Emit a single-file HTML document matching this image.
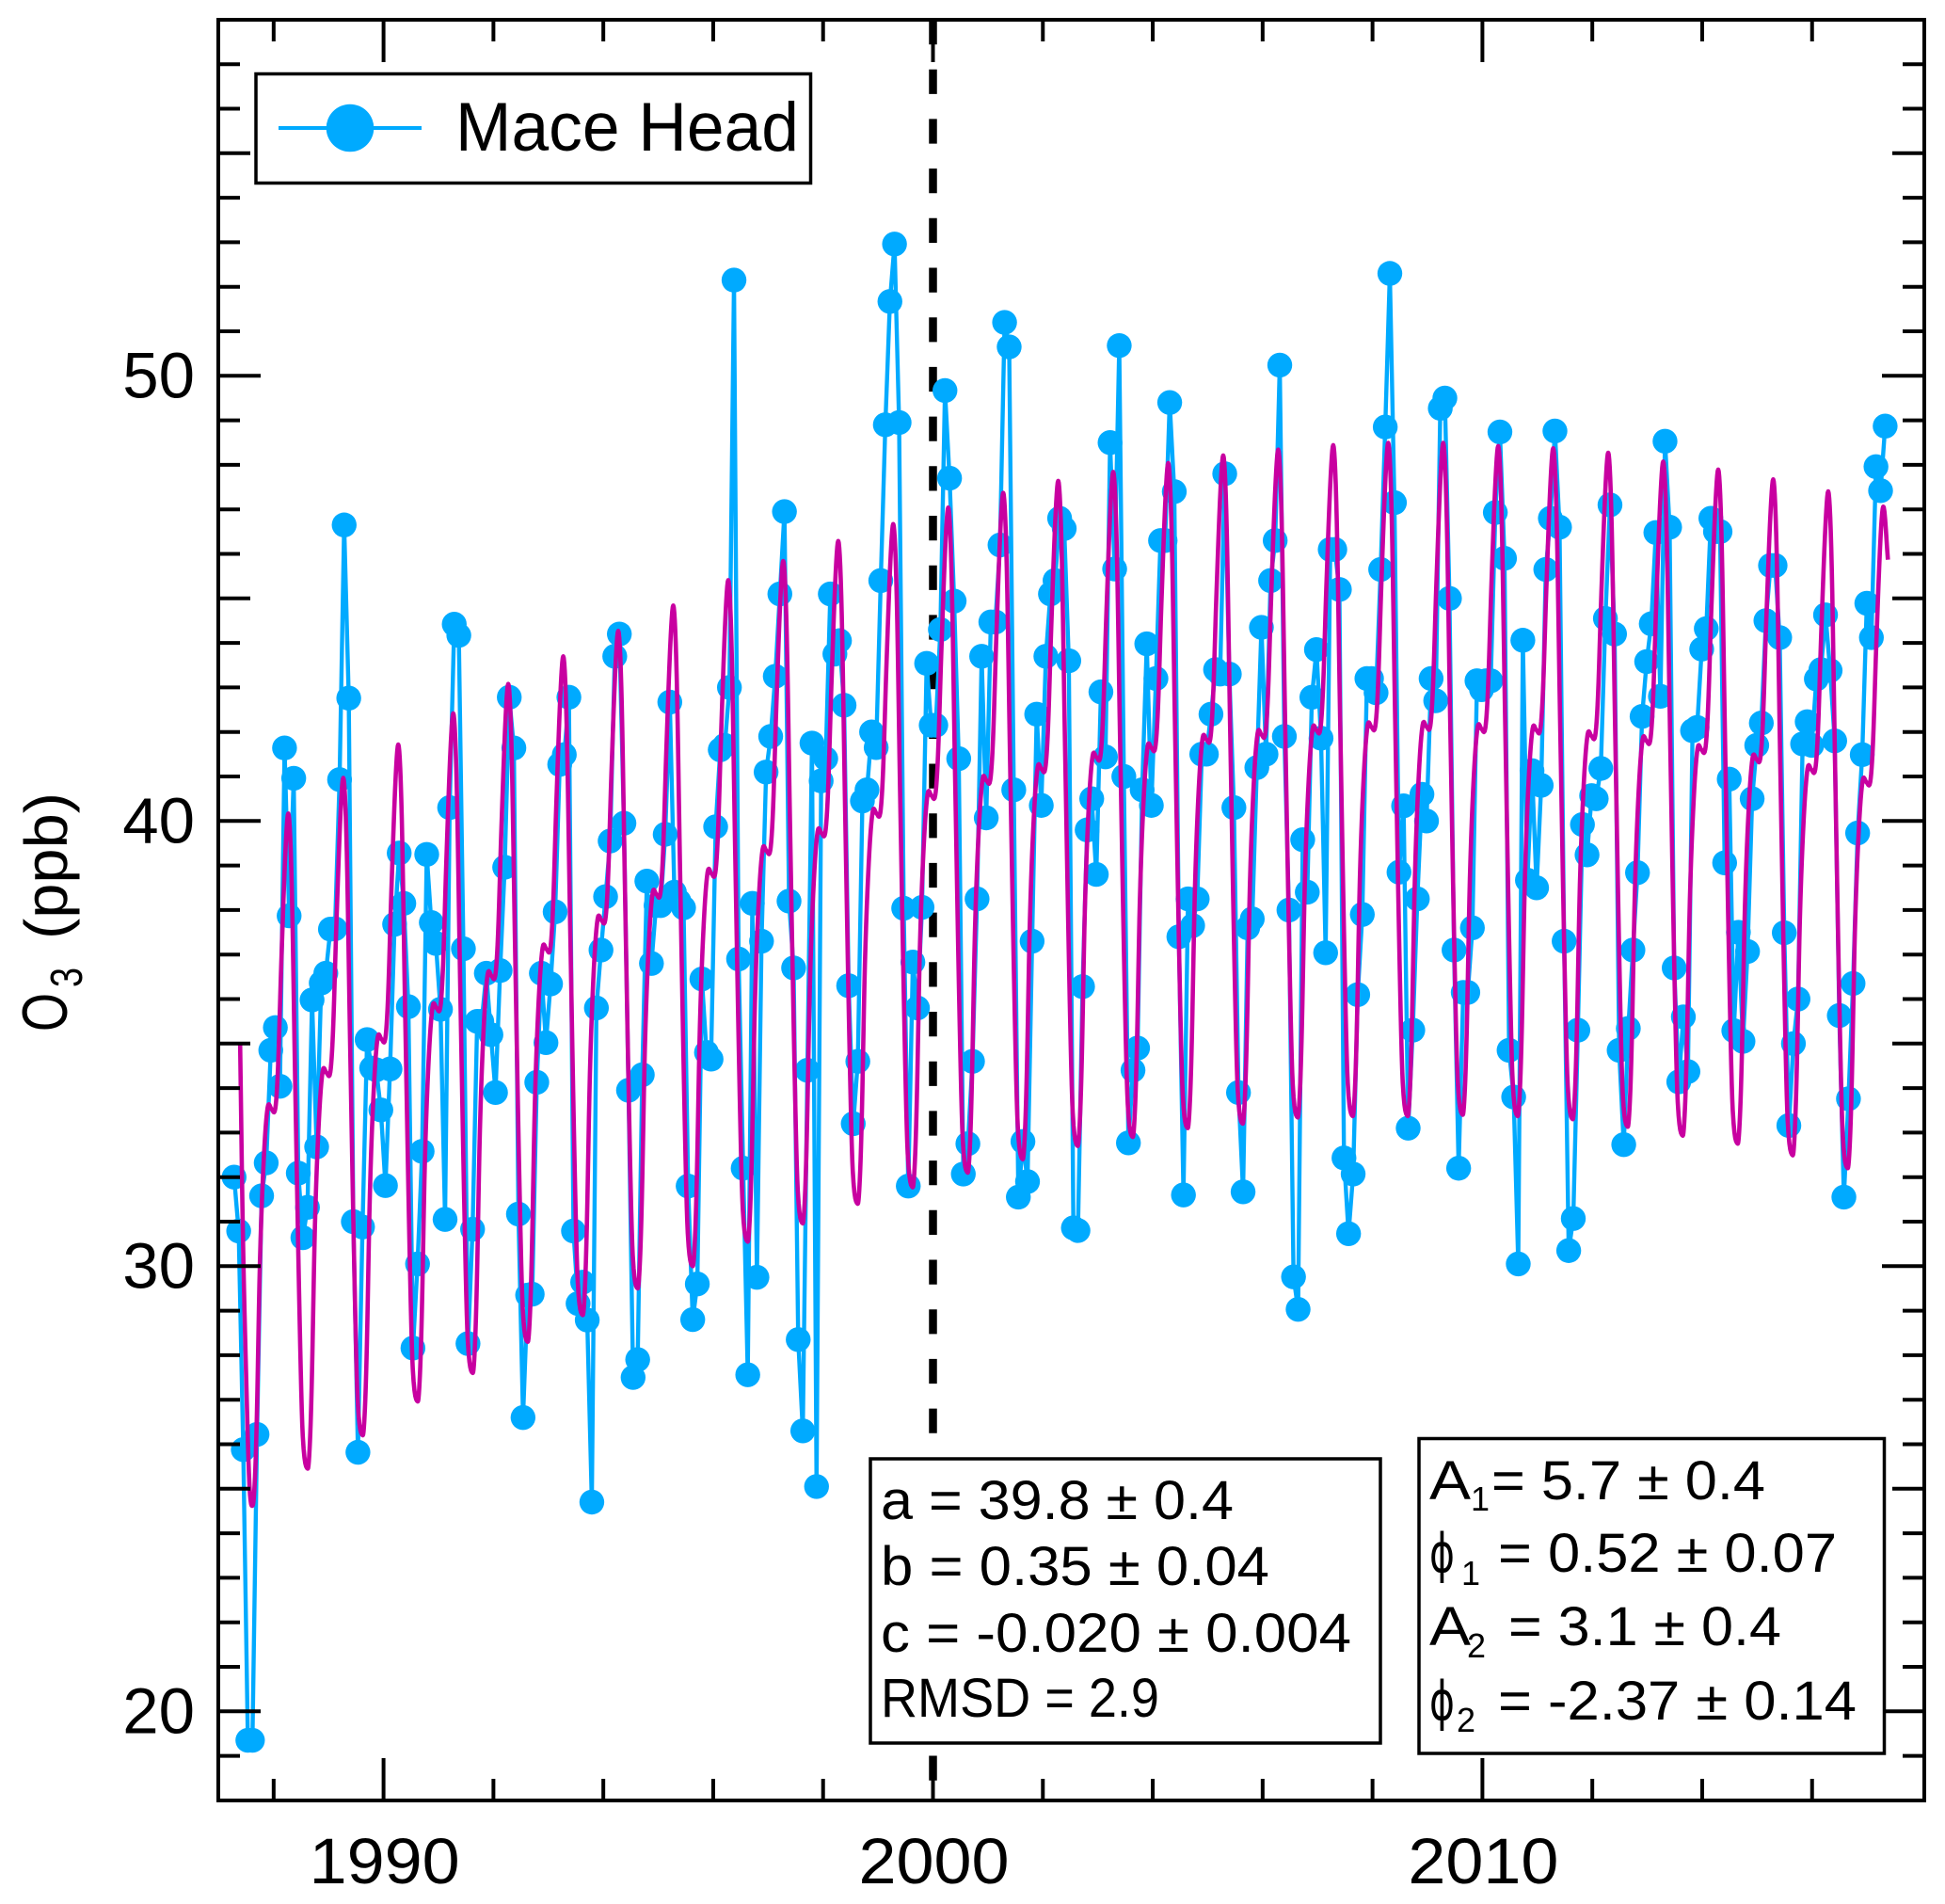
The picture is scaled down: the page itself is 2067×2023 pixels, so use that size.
<!DOCTYPE html>
<html lang="en">
<head>
<meta charset="utf-8">
<title>Mace Head O3</title>
<style>
html,body{margin:0;padding:0;background:#fff;}
svg{display:block;font-family:"Liberation Sans",sans-serif;fill:#000;}
text{fill:#000;}
</style>
</head>
<body>
<svg id="chart" xmlns="http://www.w3.org/2000/svg" width="2067" height="2023" viewBox="0 0 2067 2023">
  <rect x="0" y="0" width="2067" height="2023" style="fill:#fff"/>
  <g id="grid-layer"></g>
  <g id="data-layer"></g>
  <g id="axis-layer"></g>

  <g>
    <text transform="translate(71,1096) rotate(-90)" font-size="68" textLength="41" lengthAdjust="spacingAndGlyphs">O</text>
    <text transform="translate(87,1049) rotate(-90)" font-size="48" textLength="21" lengthAdjust="spacingAndGlyphs">3</text>
    <text transform="translate(71,998) rotate(-90)" font-size="64" textLength="156" lengthAdjust="spacingAndGlyphs">(ppb)</text>
  </g>

  <g>
    <rect x="272" y="78.5" width="589.5" height="116" style="fill:#fff;stroke:#000;stroke-width:3.5"/>
    <line x1="296" y1="136" x2="448" y2="136" style="stroke:#00aaff;stroke-width:4"/>
    <circle cx="372" cy="136" r="25.3" style="fill:#00aaff"/>
    <text x="484" y="160" font-size="73" textLength="365" lengthAdjust="spacingAndGlyphs">Mace Head</text>
  </g>

  <g>
    <rect x="925" y="1550" width="542" height="302" style="fill:#fff;stroke:#000;stroke-width:3.5"/>
    <text x="936" y="1614" font-size="58" textLength="375" lengthAdjust="spacingAndGlyphs">a = 39.8 ± 0.4</text>
    <text x="936" y="1684" font-size="58" textLength="413" lengthAdjust="spacingAndGlyphs">b = 0.35 ± 0.04</text>
    <text x="936" y="1755" font-size="58" textLength="500" lengthAdjust="spacingAndGlyphs">c = -0.020 ± 0.004</text>
    <text x="936" y="1824" font-size="58" textLength="296" lengthAdjust="spacingAndGlyphs">RMSD = 2.9</text>
  </g>

  <g>
    <rect x="1508" y="1528.5" width="494.5" height="334.5" style="fill:#fff;stroke:#000;stroke-width:3.5"/>
    <text x="1519" y="1593" font-size="58" textLength="44" lengthAdjust="spacingAndGlyphs">A</text>
    <text x="1563" y="1605" font-size="36">1</text>
    <text x="1585" y="1593" font-size="58" textLength="291" lengthAdjust="spacingAndGlyphs">= 5.7 ± 0.4</text>
    <text x="1519" y="1670" font-size="57" style="font-family:'DejaVu Sans',sans-serif" textLength="27" lengthAdjust="spacingAndGlyphs">ϕ</text>
    <text x="1553" y="1684" font-size="36">1</text>
    <text x="1592" y="1670" font-size="58" textLength="360" lengthAdjust="spacingAndGlyphs">= 0.52 ± 0.07</text>
    <text x="1519" y="1748" font-size="58" textLength="44" lengthAdjust="spacingAndGlyphs">A</text>
    <text x="1559" y="1761" font-size="36">2</text>
    <text x="1603" y="1748" font-size="58" textLength="290" lengthAdjust="spacingAndGlyphs">= 3.1 ± 0.4</text>
    <text x="1519" y="1827" font-size="57" style="font-family:'DejaVu Sans',sans-serif" textLength="27" lengthAdjust="spacingAndGlyphs">ϕ</text>
    <text x="1548" y="1840" font-size="36">2</text>
    <text x="1592" y="1827" font-size="58" textLength="381" lengthAdjust="spacingAndGlyphs">= -2.37 ± 0.14</text>
  </g>
</svg>
<script>
// ---- chart data ----
const xMin = 1987, xMax = 2018, yMin = 18, yMax = 58;
const firstYear = 1987.28;
const samplesPerYear = 11.98;
const xTickLabels = [1990, 2000, 2010];
const yTickLabels = [20, 30, 40, 50];
const referenceYear = 2000;

// Monthly O3 at Mace Head, ppb (April 1987 onward)
const o3Values = [
32.0,30.79,25.88,19.35,19.35,26.22,31.58,32.32,34.85,35.36,34.04,41.64,
37.87,40.96,32.09,30.64,31.32,35.98,32.68,36.36,36.58,37.57,37.58,40.93,
46.65,42.76,31.0,25.82,30.88,35.09,34.45,34.41,33.51,31.81,34.43,37.68,
39.28,38.15,35.83,28.16,30.05,32.58,39.25,37.72,37.25,35.77,31.05,40.3,
44.42,44.17,37.13,28.26,30.83,35.5,35.5,36.58,35.2,33.9,36.64,38.96,
42.78,41.64,31.17,26.6,29.35,29.37,34.13,36.58,35.02,36.34,37.96,41.27,
41.49,42.78,30.79,29.16,29.64,28.79,24.7,35.8,37.1,38.3,39.55,43.7,
44.2,39.95,33.95,27.5,27.9,34.3,38.65,36.8,38.1,38.1,39.7,42.67,
38.4,38.2,38.05,31.8,28.8,29.6,36.45,34.8,34.65,39.87,41.6,41.7,
43.0,52.15,36.9,32.2,27.56,38.15,29.75,37.3,41.1,41.9,43.25,45.1,
46.95,38.2,36.7,28.35,26.3,34.4,41.75,25.05,40.9,41.4,45.1,43.75,
44.05,42.6,36.3,33.2,34.6,40.45,40.7,42.0,41.65,45.4,48.9,51.67,
52.96,48.95,38.04,31.8,36.83,35.8,38.06,43.54,42.15,42.15,44.3,49.67,
47.7,44.94,41.4,32.07,32.75,34.6,38.25,43.7,40.07,44.47,44.47,46.2,
51.2,50.65,40.7,31.55,32.8,31.9,37.3,42.4,40.35,43.7,45.1,45.4,
46.8,46.57,43.6,30.86,30.8,36.28,39.8,40.5,38.8,42.9,41.44,48.5,
45.66,50.68,41.0,32.77,34.4,34.9,40.7,43.98,40.35,43.2,46.3,46.3,
49.4,47.4,37.4,31.6,38.25,37.65,38.25,41.5,41.5,42.4,43.4,43.3,
47.8,43.3,40.3,33.9,31.67,37.6,37.8,41.2,44.35,41.5,45.4,46.3,
50.24,41.9,38.0,29.76,29.03,39.58,38.4,42.78,43.85,41.86,37.04,46.1,
46.1,45.2,32.43,30.73,32.07,36.1,37.9,43.2,43.2,42.88,45.65,48.85,
52.3,47.15,38.85,40.34,33.1,35.3,38.25,40.6,40.0,43.2,42.7,49.27,
49.5,45.0,37.1,32.2,36.15,36.15,37.6,43.15,42.95,43.15,43.15,46.93,
48.74,45.9,34.85,33.8,30.05,44.06,38.67,41.13,38.5,40.8,45.65,46.8,
48.76,46.6,37.3,30.35,31.07,35.3,39.92,39.24,40.57,40.5,41.18,44.55,
47.1,44.2,34.85,32.73,35.34,37.1,38.84,42.35,43.58,44.43,46.48,42.8,
48.53,46.6,36.7,34.14,35.6,34.37,42.03,42.1,43.86,44.32,46.8,46.5,
46.5,39.06,40.94,35.29,37.5,35.05,37.07,40.5,41.7,42.2,44.5,45.74,
45.74,44.12,37.49,33.16,35.0,36.0,41.73,42.23,41.7,43.19,43.4,44.63,
43.38,41.8,35.63,31.55,33.76,36.35,39.73,41.49,44.89,44.12,47.96,47.42,
48.87
];

// Fit curve, read per annual cycle (troughs/shoulders start 1987, peaks start 1988)
const fitTroughs = [24.63,25.45,26.2,26.96,27.6,28.3,28.9,29.5,30.0,30.55,30.96,31.4,31.77,32.1,32.4,32.7,32.9,33.1,33.2,33.34,33.37,33.37,33.4,33.37,33.3,33.13,32.93,32.75,32.49,32.2];
const fitShoulders = [33.56,34.375,35.13,35.83,36.55,37.15,37.8,38.38,38.85,39.36,39.76,40.2,40.6,40.94,41.2,41.46,41.67,41.86,41.97,42.07,42.14,42.15,42.1,42.07,41.94,41.83,41.63,41.42,41.18,40.9];
const fitPeaks = [40.13,40.93,41.68,42.38,43.04,43.66,44.23,44.8,45.37,45.8,46.25,46.63,47.0,47.33,47.6,47.8,48.0,48.17,48.3,48.4,48.45,48.45,48.38,48.33,48.23,48.03,47.85,47.63,47.36,47.05];
const fitHeadYears = [1987.39,1987.44,1987.5,1987.56];
const fitHeadValues = [34.98,30.73,27.5,25.07];
const fitEndYear = 2017.38;
const fitEndValue = 45.87;

// ---- axis functions ----
const plotLeft = 232, plotRight = 2045, plotTop = 21, plotBottom = 1913;
function xPos(year){ return 407.6 + (year - 1990) * 58.39; }
function yPos(v){ return 399.3 + (50 - v) * 47.3; }

const NS = 'http://www.w3.org/2000/svg';
function svgEl(tag, parent){
  const el = document.createElementNS(NS, tag);
  parent.appendChild(el);
  return el;
}
function drawLine(parent, x1, y1, x2, y2, width){
  const l = svgEl('line', parent);
  l.setAttribute('x1', x1); l.setAttribute('y1', y1);
  l.setAttribute('x2', x2); l.setAttribute('y2', y2);
  l.style.stroke = '#000';
  l.style.strokeWidth = width;
  return l;
}

const gridLayer = document.getElementById('grid-layer');
const dataLayer = document.getElementById('data-layer');
const axisLayer = document.getElementById('axis-layer');

// reference dashed line
const refLine = drawLine(gridLayer, xPos(referenceYear), plotTop, xPos(referenceYear), plotBottom, 8.5);
refLine.style.strokeDasharray = '26.2 26.5';



// observed series
function obsYear(i){ return firstYear + i / samplesPerYear; }
const obsLine = svgEl('polyline', dataLayer);
obsLine.setAttribute('points', o3Values.map((v, i) => xPos(obsYear(i)).toFixed(2) + ',' + yPos(v).toFixed(2)).join(' '));
obsLine.style.fill = 'none';
obsLine.style.stroke = '#00aaff';
obsLine.style.strokeWidth = '4.4';
obsLine.style.strokeLinejoin = 'round';



o3Values.forEach((v, i) => {
  const c = svgEl('circle', dataLayer);
  c.setAttribute('cx', xPos(obsYear(i)).toFixed(2));
  c.setAttribute('cy', yPos(v).toFixed(2));
  c.setAttribute('r', '13.2');
  c.style.fill = '#00aaff';
  
  
});

// fit curve: knots per annual cycle, drawn through a smooth spline
const fitKnots = [];
fitHeadYears.forEach((y, i) => fitKnots.push([y, fitHeadValues[i]]));
fitTroughs.forEach((T, k) => {
  const t0 = 1987.62 + k * 1.001;
  const S = fitShoulders[k], P = fitPeaks[k];
  const Tn = k + 1 < fitTroughs.length ? fitTroughs[k + 1] : T;
  fitKnots.push([t0, T]);
  fitKnots.push([t0 + 0.04, T + 0.07 * (S - T)]);
  fitKnots.push([t0 + 0.075, T + 0.23 * (S - T)]);
  fitKnots.push([t0 + 0.13, T + 0.61 * (S - T)]);
  fitKnots.push([t0 + 0.2, T + 0.87 * (S - T)]);
  fitKnots.push([t0 + 0.27, S]);
  fitKnots.push([t0 + 0.34, S - 0.03]);
  fitKnots.push([t0 + 0.41, S - 0.02]);
  fitKnots.push([t0 + 0.46, S + 0.14 * (P - S)]);
  fitKnots.push([t0 + 0.52, S + 0.5 * (P - S)]);
  fitKnots.push([t0 + 0.6, S + 0.9 * (P - S)]);
  fitKnots.push([t0 + 0.655, P]);
  if (k + 1 < fitTroughs.length) {
    fitKnots.push([t0 + 0.71, P - 0.11 * (P - Tn)]);
    fitKnots.push([t0 + 0.77, P - 0.4 * (P - Tn)]);
    fitKnots.push([t0 + 0.855, P - 0.78 * (P - Tn)]);
    fitKnots.push([t0 + 0.91, P - 0.95 * (P - Tn)]);
  }
});
fitKnots.push([fitEndYear, fitEndValue]);

function tangent(i){
  const a = fitKnots[Math.max(0, i - 1)], b = fitKnots[Math.min(fitKnots.length - 1, i + 1)];
  return (b[1] - a[1]) / (b[0] - a[0]);
}
const fitPoints = [];
for (let i = 0; i < fitKnots.length - 1; i++) {
  const p0 = fitKnots[i], p1 = fitKnots[i + 1];
  const h = p1[0] - p0[0], m0 = tangent(i), m1 = tangent(i + 1);
  for (let s = 0; s < 6; s++) {
    const u = s / 6, u2 = u * u, u3 = u2 * u;
    const val = (2*u3 - 3*u2 + 1) * p0[1] + (u3 - 2*u2 + u) * h * m0 + (-2*u3 + 3*u2) * p1[1] + (u3 - u2) * h * m1;
    fitPoints.push(xPos(p0[0] + u * h).toFixed(2) + ',' + yPos(val).toFixed(2));
  }
}
fitPoints.push(xPos(fitEndYear).toFixed(2) + ',' + yPos(fitEndValue).toFixed(2));
const fitLine = svgEl('polyline', dataLayer);
fitLine.setAttribute('points', fitPoints.join(' '));
fitLine.style.fill = 'none';
fitLine.style.stroke = '#c800a0';
fitLine.style.strokeWidth = '4.6';
fitLine.style.strokeLinejoin = 'round';



// x ticks (top and bottom)
for (let yr = 1988; yr <= 2016; yr += 2) {
  const major = yr % 10 === 0;
  const len = major ? 45 : 23;
  const b = drawLine(axisLayer, xPos(yr), plotBottom, xPos(yr), plotBottom - len, 4);
  
  
  const t = drawLine(axisLayer, xPos(yr), plotTop, xPos(yr), plotTop + len, 4);
  
  
}
// y ticks (left and right)
for (let v = 19; v <= 57; v++) {
  const major = v % 10 === 0, mid = v % 5 === 0;
  const len = major ? 45 : mid ? 34 : 23;
  const l = drawLine(axisLayer, plotLeft, yPos(v), plotLeft + len, yPos(v), 4);
  
  
  const r = drawLine(axisLayer, plotRight, yPos(v), plotRight - len, yPos(v), 4);
  
  
}
// frame
const frame = svgEl('rect', axisLayer);
frame.setAttribute('x', plotLeft);
frame.setAttribute('y', plotTop);
frame.setAttribute('width', plotRight - plotLeft);
frame.setAttribute('height', plotBottom - plotTop);
frame.style.fill = 'none';
frame.style.stroke = '#000';
frame.style.strokeWidth = '4';



// tick labels
xTickLabels.forEach(yr => {
  const t = svgEl('text', axisLayer);
  t.textContent = String(yr);
  t.setAttribute('x', xPos(yr) + 1 - 80);
  t.setAttribute('y', 2001);
  t.setAttribute('font-size', '69');
  t.setAttribute('textLength', '160');
  t.setAttribute('lengthAdjust', 'spacingAndGlyphs');
  
  
});
yTickLabels.forEach(v => {
  const t = svgEl('text', axisLayer);
  t.textContent = String(v);
  t.setAttribute('x', 207);
  t.setAttribute('y', yPos(v) + 23);
  t.setAttribute('font-size', '69');
  t.setAttribute('text-anchor', 'end');
  
  
});
</script>
</body>
</html>
